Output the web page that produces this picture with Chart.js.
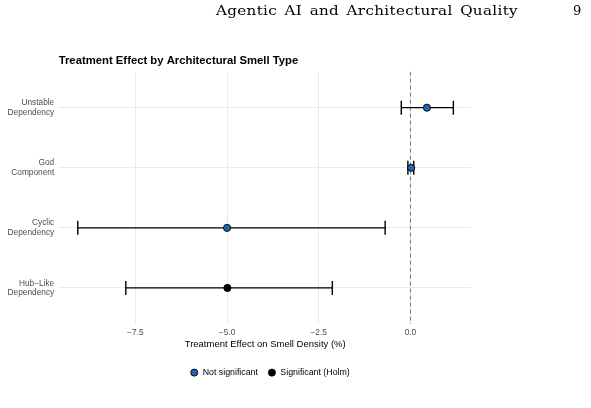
<!DOCTYPE html>
<html lang="en">
<head>
    <meta charset="UTF-8">
    <title>Treatment Effect by Architectural Smell Type</title>
    <script src="https://cdn.jsdelivr.net/npm/chart.js"></script>
    <style>
        body { margin: 0; background: #fff; }
        .page { position: relative; width: 591px; height: 408px; overflow: hidden; }
        .chart-container { position: absolute; left: 0; top: 0; width: 591px; height: 408px; }
        .running-head {
            position: absolute;
            top: 4px;
            font-family: 'DejaVu Serif', 'Liberation Serif', serif;
            font-size: 13px;
            line-height: 13px;
            color: #000;
            white-space: nowrap;
            transform-origin: 0 0;
        }
    </style>
</head>
<body>
    <div class="page">
        <div class="chart-container">
            <canvas id="effectChart" width="591" height="408"></canvas>
        </div>
        <!-- page header of the paper -->
        <div id="runningTitle" class="running-head" style="left:216px">Agentic AI and Architectural Quality</div>
        <div class="running-head" style="left:573px">9</div>
    </div>

    <script>
        // Data (top to bottom)
        const smellTypes = ['Unstable Dependency', 'God Component', 'Cyclic Dependency', 'Hub\u2212Like Dependency'];
        const estimates = [0.45, 0.02, -5.00, -4.99];
        const ciLower = [-0.25, -0.07, -9.07, -7.76];
        const ciUpper = [1.17, 0.09, -0.69, -2.13];
        const significant = [false, false, false, true];
        const xTicks = [-7.5, -5.0, -2.5, 0.0];
        const legendLabels = ['Not significant', 'Significant (Holm)'];

        const X_MIN = -9.59;
        const X_MAX = 1.67;
        const BLUE = '#2166AC';
        const TEXT_GREY = '#4d4d4d';
        const GRID = '#ebebeb';
        const SANS = "'Liberation Sans', Arial, sans-serif";

        // the paper's header font (CM) is wider than what we have, so stretch it to the same width
        const head = document.getElementById('runningTitle');
        head.style.letterSpacing = '0.3px';
        head.style.wordSpacing = '2px';
        const natural = head.getBoundingClientRect().width;
        head.style.transform = 'scaleX(' + (302 / natural) + ')';

        const minus = v => v.toFixed(1).replace('-', '\u2212');

        function pointsFor(flag) {
            const pts = [];
            smellTypes.forEach((name, i) => {
                if (significant[i] === flag) pts.push({ x: estimates[i], y: i + 1 });
            });
            return pts;
        }

        const pointSets = [
            {
                type: 'scatter',
                label: legendLabels[0],
                data: pointsFor(false),
                backgroundColor: BLUE,
                borderColor: '#000',
                pointRadius: 3.6,
                pointBorderWidth: 0.9,
                order: 0
            },
            {
                type: 'scatter',
                label: legendLabels[1],
                data: pointsFor(true),
                backgroundColor: '#000',
                borderColor: '#000',
                pointRadius: 3.6,
                pointBorderWidth: 0.9,
                order: 0
            }
        ];

        // one line per smell type for the confidence interval, caps are rotated line points
        const errorBarSets = smellTypes.map((name, i) => ({
            type: 'line',
            label: name + ' CI',
            data: [{ x: ciLower[i], y: i + 1 }, { x: ciUpper[i], y: i + 1 }],
            borderColor: '#000',
            borderWidth: 1.3,
            pointStyle: 'line',
            rotation: 90,
            pointRadius: 7,
            pointBorderWidth: 1.4,
            pointBorderColor: '#000',
            order: 1
        }));

        const zeroLine = {
            type: 'line',
            label: 'zero',
            data: [{ x: 0, y: 0.4 }, { x: 0, y: 4.6 }],
            borderColor: '#555',
            borderWidth: 0.8,
            borderDash: [4, 3],
            pointRadius: 0,
            order: 2
        };

        new Chart(document.getElementById('effectChart'), {
            type: 'scatter',
            data: { datasets: [...pointSets, ...errorBarSets, zeroLine] },
            options: {
                responsive: false,
                animation: false,
                events: [],
                font: { family: SANS },
                layout: { padding: { left: 0, right: 51, top: 0, bottom: 21 } },
                plugins: {
                    tooltip: { enabled: false },
                    title: {
                        display: true,
                        text: 'Treatment Effect by Architectural Smell Type',
                        align: 'start',
                        fullSize: false,
                        color: '#000',
                        font: { family: SANS, size: 11.3, weight: 'bold' },
                        padding: { top: 54.2, bottom: 3.9 }
                    },
                    legend: {
                        position: 'bottom',
                        labels: {
                            filter: item => legendLabels.includes(item.text),
                            usePointStyle: true,
                            pointStyle: 'circle',
                            boxHeight: 5,
                            boxWidth: 8,
                            padding: 10,
                            color: '#000',
                            font: { family: SANS, size: 8.8 }
                        }
                    }
                },
                scales: {
                    x: {
                        type: 'linear',
                        min: X_MIN,
                        max: X_MAX,
                        afterBuildTicks: s => { s.ticks = xTicks.map(v => ({ value: v })); },
                        afterFit: s => { s.height = 34.2; },
                        ticks: {
                            callback: v => minus(v),
                            color: TEXT_GREY,
                            font: { size: 8.4 },
                            padding: 3.5,
                            maxRotation: 0,
                            autoSkip: false
                        },
                        grid: { color: GRID, lineWidth: 1, drawTicks: false },
                        border: { display: false },
                        title: {
                            display: true,
                            text: 'Treatment Effect on Smell Density (%)',
                            color: '#000',
                            font: { size: 9.5 },
                            padding: { top: 1, bottom: 8.3 }
                        }
                    },
                    y: {
                        type: 'linear',
                        reverse: true,
                        min: 0.4,
                        max: 4.6,
                        afterBuildTicks: s => { s.ticks = smellTypes.map((n, i) => ({ value: i + 1 })); },
                        afterFit: s => { s.width = 58.7; },
                        ticks: {
                            callback: v => smellTypes[v - 1].split(' '),
                            color: TEXT_GREY,
                            font: { size: 8.3, lineHeight: 1.13 },
                            padding: 4.5
                        },
                        grid: { color: GRID, lineWidth: 1, drawTicks: false },
                        border: { display: false }
                    },
                    // empty right-hand strip so the panel ends where the figure's panel ends
                    spacer: {
                        type: 'linear',
                        position: 'right',
                        ticks: { display: false },
                        grid: { display: false },
                        border: { display: false },
                        afterFit: s => { s.width = 68.3; }
                    }
                }
            }
        });
    </script>
</body>
</html>
